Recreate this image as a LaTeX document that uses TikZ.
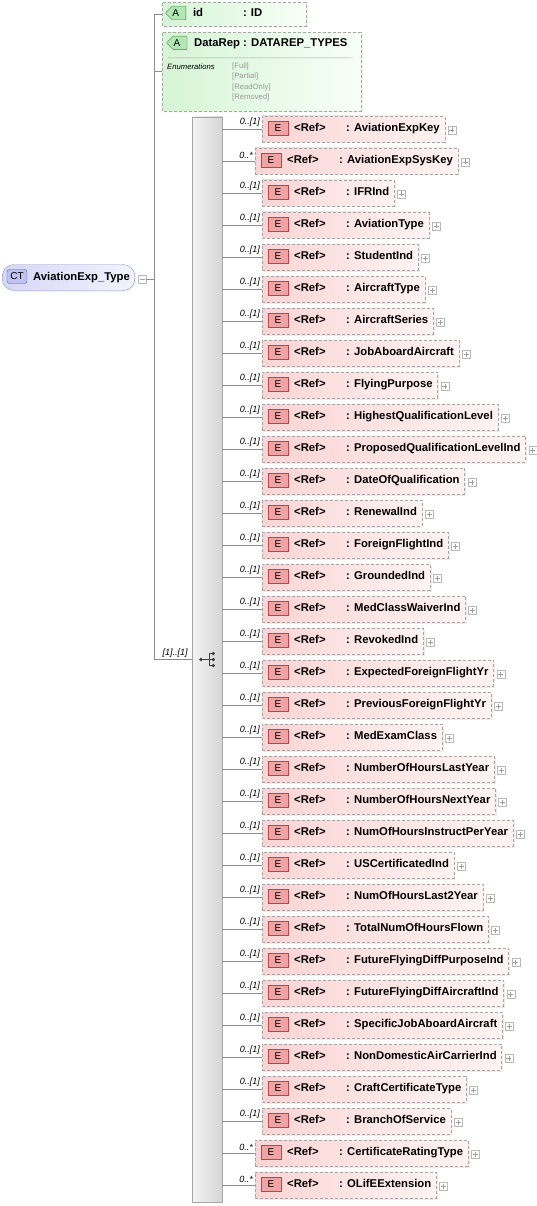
\documentclass[tikz,border=0pt]{standalone}
\usepackage{fontspec}
\setmainfont{Liberation Sans}
\usepackage{tikz}
\usetikzlibrary{positioning,calc,shapes.misc,shadows}
\definecolor{linecol}{HTML}{8C8C8C}
\definecolor{boxline}{HTML}{A6A6A6}
\definecolor{elemL}{HTML}{FAD4D4}
\definecolor{elemR}{HTML}{FFF3F3}
\definecolor{ebadgecol}{HTML}{F2A4A4}
\definecolor{ebadgeline}{HTML}{B04A4A}
\definecolor{attrL}{HTML}{D6F4D6}
\definecolor{attrR}{HTML}{F7FFF7}
\definecolor{abadgecol}{HTML}{B2E6B2}
\definecolor{abadgeline}{HTML}{3E8A3E}
\definecolor{ctL}{HTML}{D6D6F6}
\definecolor{ctR}{HTML}{F3F3FF}
\definecolor{ctline}{HTML}{9898C6}
\definecolor{ctbadgecol}{HTML}{C2C2F2}
\definecolor{ctbadgeline}{HTML}{5A5A9C}
\definecolor{seqL}{HTML}{F4F4F4}
\definecolor{seqR}{HTML}{D6D6D6}
\definecolor{enumcol}{HTML}{999999}

\newcommand{\namefont}{\fontsize{11.3}{13}\selectfont\bfseries}
\newcommand{\cardfont}{\fontsize{9}{10}\selectfont\itshape}
\newcommand{\enumfont}{\fontsize{7.7}{9}\selectfont}

\tikzset{
  conn/.style={draw=linecol,line width=0.7pt},
  elembox/.style={draw=boxline,dash pattern=on 3pt off 2pt,left color=elemL,right color=elemR,
    minimum height=26pt,inner xsep=5pt,inner ysep=0pt,anchor=west,font=\namefont,
    drop shadow={shadow xshift=1.5pt,shadow yshift=-1.5pt,opacity=.15}},
  ebadge/.style={draw=ebadgeline,fill=ebadgecol,minimum width=20pt,minimum height=14pt,
    inner sep=0pt,font=\fontsize{10}{10}\selectfont},
  attrbox/.style={chamfered rectangle,chamfered rectangle corners={north west,south west},
    chamfered rectangle xsep=5pt,draw=boxline,dash pattern=on 3pt off 2pt,
    left color=attrL,right color=attrR,inner sep=0pt,
    drop shadow={shadow xshift=1.5pt,shadow yshift=-1.5pt,opacity=.15}},
  abadge/.style={chamfered rectangle,chamfered rectangle corners={north west,south west},
    chamfered rectangle xsep=3pt,draw=abadgeline,fill=abadgecol,minimum width=20pt,
    minimum height=13pt,inner sep=0pt,font=\fontsize{10}{10}\selectfont},
  attrname/.style={anchor=west,inner sep=0pt,font=\namefont},
  ctbox/.style={draw=ctline,left color=ctL,right color=ctR,rounded corners=12pt,
    minimum height=26pt,inner xsep=5pt,inner ysep=0pt,anchor=west,font=\namefont,
    drop shadow={shadow xshift=1.5pt,shadow yshift=-1.5pt,opacity=.12}},
  ctbadge/.style={draw=ctbadgeline,fill=ctbadgecol,rounded corners=2.5pt,minimum width=20pt,
    minimum height=14pt,inner sep=0pt,font=\fontsize{10}{10}\selectfont},
  seqbar/.style={draw=boxline,left color=seqL,right color=seqR,minimum width=30pt,
    minimum height=1085pt,inner sep=0pt},
  card/.style={inner sep=0pt,font=\cardfont},
  enumhead/.style={anchor=west,inner sep=0pt,font=\enumfont\itshape},
  enumval/.style={anchor=west,inner sep=0pt,font=\enumfont,text=enumcol},
  plusbox/.style={draw=gray!55,fill=white,minimum size=8pt,inner sep=0pt,
    path picture={\draw[gray!75,line width=0.6pt]
      ($(path picture bounding box.center)+(-2.5,0)$) -- ($(path picture bounding box.center)+(2.5,0)$)
      ($(path picture bounding box.center)+(0,-2.5)$) -- ($(path picture bounding box.center)+(0,2.5)$);}},
  minusbox/.style={draw=gray!55,fill=white,minimum size=8pt,inner sep=0pt,
    path picture={\draw[gray!75,line width=0.6pt]
      ($(path picture bounding box.center)+(-2.5,0)$) -- ($(path picture bounding box.center)+(2.5,0)$);}}
}

\begin{document}
\begin{tikzpicture}[x=1pt,y=-1pt]
  \useasboundingbox (0,0) rectangle (536,1206);

  % complex type
  \node[ctbox] (ct) at (2,277.5) {\hspace*{26pt}AviationExp\_Type\vphantom{Apy}};
  \node[ctbadge] (ctb) at ($(ct.west)+(15,-1)$) {CT};
  \node[minusbox] (ctm) at ($(ct.east)+(7,1.5)$) {};

  % attributes
  \node[attrbox,minimum width=144pt,minimum height=24pt] (aid) at (234,14) {};
  \node[abadge] (aidb) at ($(aid.west)+(14,-1)$) {A};
  \node[attrname] (aidn) at ($(aid.west)+(31,0)$) {id\vphantom{Apy}};
  \node[attrname] (aidt) at ($(aid.west)+(81,0)$) {: ID\vphantom{Apy}};

  \node[attrbox,minimum width=199pt,minimum height=79pt] (adr) at (261.5,71.5) {};
  \node[abadge] (adrb) at ($(adr.north west)+(15,11)$) {A};
  \node[attrname] (adrn) at ($(adr.north west)+(32,12)$) {DataRep\vphantom{Apy}};
  \node[attrname] (adrt) at ($(adr.north west)+(81,12)$) {: DATAREP\_TYPES\vphantom{Apy}};
  \draw[boxline] ($(adr.north west)+(6,26)$) -- ($(adr.north east)+(-8,26)$);
  \node[enumhead] (adre) at ($(adr.north west)+(5,34.5)$) {Enumerations};
  \foreach \v [count=\k from 0] in {Full,Partial,ReadOnly,Removed}
    \node[enumval] (adrv\k) at ($(adr.north west)+(70,34.5+10.4*\k)$) {[\v]};

  % sequence
  \node[seqbar] (seq) at (207,659.5) {};
  \begin{scope}[shift={(seq.center)}]
    \draw[black!75,line width=0.8pt] (-6,0) -- (6,0) (2,-6) -- (2,6) (2,-6) -- (6,-6) (2,6) -- (6,6);
    \fill[black!75] (-6,0) circle (1.8) (6.3,-6) circle (1.8) (6.3,0) circle (1.8) (6.3,6) circle (1.8);
  \end{scope}

  \coordinate (spine) at (154,659.5);
  \draw[conn] (ctm.east) -- (ctm.east -| spine);
  \draw[conn] (aid.west) -| (spine) -- (seq.west);
  \draw[conn] (adr.west) -- (adr.west -| spine);
  \node[card,anchor=south east] (seqcard) at ($(seq.west)+(-4,-2)$) {[1]..[1]};

  % elements
  \foreach \nm/\mlt [count=\i from 0] in {AviationExpKey/1,AviationExpSysKey/n,IFRInd/1,
      AviationType/1,StudentInd/1,AircraftType/1,AircraftSeries/1,JobAboardAircraft/1,
      FlyingPurpose/1,HighestQualificationLevel/1,ProposedQualificationLevelInd/1,
      DateOfQualification/1,RenewalInd/1,ForeignFlightInd/1,GroundedInd/1,MedClassWaiverInd/1,
      RevokedInd/1,ExpectedForeignFlightYr/1,PreviousForeignFlightYr/1,MedExamClass/1,
      NumberOfHoursLastYear/1,NumberOfHoursNextYear/1,NumOfHoursInstructPerYear/1,
      USCertificatedInd/1,NumOfHoursLast2Year/1,TotalNumOfHoursFlown/1,
      FutureFlyingDiffPurposeInd/1,FutureFlyingDiffAircraftInd/1,SpecificJobAboardAircraft/1,
      NonDomesticAirCarrierInd/1,CraftCertificateType/1,BranchOfService/1,
      CertificateRatingType/n,OLifEExtension/n}{
    \pgfmathsetmacro\yy{129+32*\i}
    \if\mlt n\def\lx{255}\def\cardtxt{0..*}\else\def\lx{262}\def\cardtxt{0..[1]}\fi
    \node[elembox] (e\i) at (\lx,\yy) {\hspace*{27pt}\makebox[52pt][l]{<Ref>}: \nm\vphantom{Apy}};
    \node[ebadge] (eb\i) at ($(e\i.west)+(16,-1)$) {E};
    \node[plusbox] (ep\i) at ($(e\i.east)+(7,1)$) {};
    \node[card,anchor=south east] (ec\i) at ($(e\i.west)+(-2,-2)$) {\cardtxt};
    \draw[conn] (e\i.west -| seq.east) -- (e\i.west);
  }
\end{tikzpicture}
\end{document}
